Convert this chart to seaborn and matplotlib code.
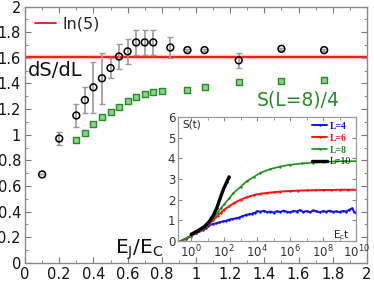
import numpy as np
import pandas as pd
import seaborn as sns
import matplotlib.pyplot as plt
from matplotlib.ticker import MultipleLocator, FuncFormatter, FixedLocator

# main panel: dS/dL (circles with error bars) and S(L=8)/4 (squares)
ej = [0.1, 0.2, 0.3, 0.35, 0.4, 0.45, 0.5, 0.55, 0.6, 0.65, 0.7, 0.75, 0.85, 0.95, 1.05, 1.25, 1.5, 1.75]
ds_dl = [0.69, 0.97, 1.15, 1.27, 1.37, 1.44, 1.52, 1.61, 1.65, 1.72, 1.72, 1.72, 1.68, 1.66, 1.66, 1.58, 1.67, 1.66]
ds_err = [0.0, 0.05, 0.09, 0.1, 0.2, 0.2, 0.08, 0.1, 0.1, 0.1, 0.1, 0.1, 0.08, 0.01, 0.01, 0.06, 0.01, 0.01]

ej_sq = [0.3, 0.35, 0.4, 0.45, 0.5, 0.55, 0.6, 0.65, 0.7, 0.75, 0.8, 0.95, 1.05, 1.25, 1.5, 1.75]
s8_4 = [0.96, 1.01, 1.085, 1.135, 1.18, 1.22, 1.265, 1.295, 1.315, 1.33, 1.34, 1.35, 1.37, 1.41, 1.42, 1.43]

# inset: S(t) vs log10(E_c t)
logt_4 = [-0.65, -0.3, 0.0, 0.3, 0.5, 0.7, 0.9, 1.0, 1.1, 1.3, 1.5, 1.7, 1.9, 2.1, 2.3, 2.5, 2.7, 2.9,
          3.1, 3.3, 3.5, 3.7, 3.9, 4.0, 4.2, 4.4, 4.6, 4.8, 5.0, 5.2, 5.4, 5.6, 5.8, 6.0, 6.2, 6.4,
          6.6, 6.8, 7.0, 7.2, 7.4, 7.6, 7.8, 8.0, 8.2, 8.4, 8.6, 8.8, 9.0, 9.2, 9.4, 9.6, 9.75, 9.9, 10.0]
s_4 = [0.0, 0.12, 0.25, 0.38, 0.47, 0.55, 0.62, 0.72, 0.78, 0.82, 0.86, 0.9, 0.95, 0.98, 1.04, 1.07, 1.1, 1.14,
       1.2, 1.26, 1.3, 1.33, 1.38, 1.45, 1.42, 1.47, 1.40, 1.43, 1.38, 1.44, 1.41, 1.47, 1.42, 1.39, 1.46, 1.43,
       1.50, 1.41, 1.45, 1.40, 1.48, 1.44, 1.39, 1.45, 1.42, 1.47, 1.41, 1.44, 1.40, 1.46, 1.43, 1.52, 1.58, 1.40, 1.37]

logt_6 = [-0.65, -0.3, 0.0, 0.3, 0.6, 0.85, 1.1, 1.35, 1.6, 1.8, 2.0, 2.3, 2.6, 3.0, 3.4, 3.8, 4.2, 4.6,
          5.0, 5.4, 6.0, 6.5, 7.0, 7.5, 8.0, 8.5, 9.0, 9.5, 10.0]
s_6 = [0.0, 0.12, 0.26, 0.4, 0.52, 0.66, 0.85, 1.01, 1.22, 1.38, 1.52, 1.68, 1.84, 2.0, 2.13, 2.22, 2.29, 2.33,
       2.36, 2.39, 2.42, 2.44, 2.45, 2.46, 2.47, 2.47, 2.48, 2.48, 2.48]

logt_8 = [-0.65, 0.0, 0.5, 0.9, 1.1, 1.35, 1.6, 1.8, 2.0, 2.3, 2.56, 3.0, 3.37, 3.8, 4.18, 4.8, 5.39, 6.0,
          6.7, 7.41, 8.0, 8.7, 9.3, 10.0]
s_8 = [0.0, 0.27, 0.5, 0.72, 0.88, 1.1, 1.38, 1.58, 1.78, 2.06, 2.32, 2.62, 2.89, 3.1, 3.3, 3.48, 3.6, 3.69,
       3.75, 3.79, 3.82, 3.85, 3.86, 3.86]

logt_10 = [0.0, 0.4, 0.8, 1.1, 1.35, 1.55, 1.76, 1.95, 2.15, 2.3]
s_10 = [0.33, 0.5, 0.7, 0.95, 1.26, 1.6, 2.08, 2.5, 2.85, 3.1]

sns.set_style('ticks')
plt.rcParams['font.family'] = ['DejaVu Sans']

fig = plt.figure(figsize=(3.74, 2.83), dpi=100)
ax = fig.add_axes([0.067, 0.071, 0.914, 0.906])

ax.axhline(np.log(5), color='#ff9a9a', lw=3.2, alpha=0.6, zorder=1)
ln5 = ax.axhline(np.log(5), color='#ee1111', lw=1.3, zorder=2, label='ln(5)')

ax.errorbar(ej, ds_dl, yerr=ds_err, fmt='none', ecolor='#9a9a9a', elinewidth=1.2,
            capsize=2, capthick=1, zorder=3)
sns.scatterplot(x=ej, y=ds_dl, ax=ax, marker='o', s=24, facecolors='none',
                edgecolors='black', linewidth=1.1, zorder=4)
sns.scatterplot(x=ej_sq, y=s8_4, ax=ax, marker='s', s=20, color='#8fd08f',
                edgecolor='#1f8f1f', linewidth=1.0, zorder=4)

ax.set_xlim(0, 2)
ax.set_ylim(0, 2)
ax.xaxis.set_major_locator(MultipleLocator(0.2))
ax.yaxis.set_major_locator(MultipleLocator(0.2))
ax.xaxis.set_minor_locator(MultipleLocator(0.1))
ax.yaxis.set_minor_locator(MultipleLocator(0.1))
fmt = FuncFormatter(lambda v, p: f'{v:g}')
ax.xaxis.set_major_formatter(fmt)
ax.yaxis.set_major_formatter(fmt)
ax.tick_params(which='both', direction='in', top=True, right=True, color='#777777',
               labelsize=10.5, labelcolor='#111111')
ax.tick_params(which='major', length=4, pad=3)
ax.tick_params(which='minor', length=2)
for sp in ax.spines.values():
    sp.set_color('#8a8a8a')
    sp.set_linewidth(1.0)

ax.legend(handles=[ln5], loc='upper left', frameon=False, fontsize=11.5,
          handlelength=1.3, handletextpad=0.4, borderaxespad=0.25)
ax.text(0.018, 1.5, 'dS/dL', fontsize=14, ha='left', va='center', color='#111111')
ax.text(1.355, 1.27, 'S(L=8)/4', fontsize=13.5, ha='left', va='center', color='#2a8c2a')
ax.text(0.525, 0.075, r'$\mathregular{E_J/E_C}$', fontsize=14.5, ha='left', va='baseline',
        color='#111111')

# inset
axin = fig.add_axes([0.476, 0.148, 0.476, 0.439])
curves = [
    (logt_4, s_4, '#1010ff', 'L=4', 1.4),
    (logt_6, s_6, '#ff1010', 'L=6', 1.4),
    (logt_8, s_8, '#1a8f1a', 'L=8', 1.2),
    (logt_10, s_10, 'black', 'L=10', 2.4),
]
for lt, sv, col, lab, lw in curves:
    df = pd.DataFrame({'t': 10.0 ** np.array(lt), 'S': sv})
    sns.lineplot(data=df, x='t', y='S', ax=axin, color=col, lw=lw, label=lab,
                 marker='.', markersize=3.5, markeredgewidth=0)
axin.set_xscale('log')
axin.set_xlim(10 ** -0.8, 1e10)
axin.set_ylim(0, 6)
axin.set_xlabel('')
axin.set_ylabel('')
axin.xaxis.set_major_locator(FixedLocator([1e0, 1e2, 1e4, 1e6, 1e8, 1e10]))
axin.xaxis.set_minor_locator(FixedLocator([1e1, 1e3, 1e5, 1e7, 1e9]))
axin.xaxis.set_minor_formatter(FuncFormatter(lambda v, p: ''))
axin.yaxis.set_major_locator(MultipleLocator(1))
axin.tick_params(which='both', direction='in', top=True, right=True, color='#888888',
                 labelsize=8.5, labelcolor='#333333', pad=2)
axin.tick_params(which='major', length=3)
axin.tick_params(which='minor', length=2)
for sp in axin.spines.values():
    sp.set_color('#9a9a9a')
    sp.set_linewidth(0.9)

leg = axin.legend(loc='upper right', frameon=False, handlelength=1.5,
                  handletextpad=0.3, labelspacing=0.3, borderaxespad=0.1,
                  prop={'family': 'Liberation Serif', 'size': 7, 'weight': 'bold'})
for txt, (_, _, col, lab, _) in zip(leg.get_texts(), curves):
    txt.set_color(col)
    if lab == 'L=10':
        txt.set_fontweight('normal')
axin.text(0.022, 0.935, 'S(t)', transform=axin.transAxes, fontsize=7.5, ha='left', va='center')
axin.text(0.965, 0.05, r'$\mathregular{E_ct}$', transform=axin.transAxes, fontsize=7.5,
          ha='right', va='center')

fig.savefig('out.png', dpi=100)
